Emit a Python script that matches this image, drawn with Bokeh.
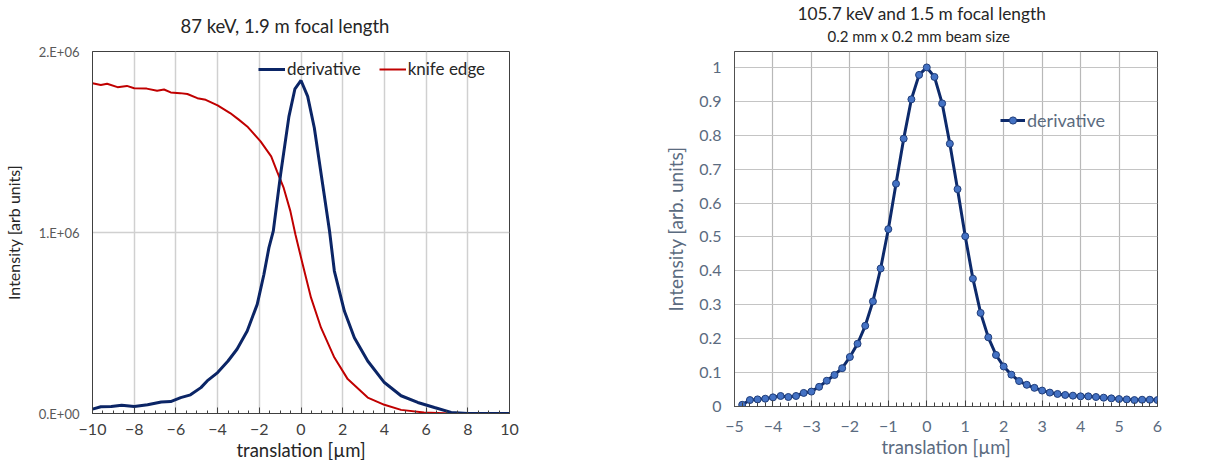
from bokeh.plotting import figure
from bokeh.layouts import row
from bokeh.models import FixedTicker, Legend, LegendItem, Range1d, Title
from bokeh.embed import file_html
from bokeh.resources import INLINE

# ---------------- data: left chart (87 keV, 1.9 m) ----------------
knife_x = [-10, -9.6, -9.3, -8.8, -8.35, -8.0, -7.4, -6.9, -6.57, -6.25, -5.8, -5.45,
           -4.97, -4.57, -4.0, -3.4, -3.0, -2.58, -1.94, -1.43, -1.15, -0.83, -0.51,
           -0.27, 0.08, 0.48, 0.96, 1.6, 2.24, 3.2, 4.0, 4.8, 5.9, 7.2, 8.0, 9.0, 10.0]
knife_y = [1.825e6, 1.815e6, 1.822e6, 1.803e6, 1.81e6, 1.797e6, 1.795e6, 1.783e6, 1.79e6,
           1.774e6, 1.77e6, 1.765e6, 1.742e6, 1.733e6, 1.702e6, 1.66e6, 1.625e6, 1.586e6,
           1.503e6, 1.421e6, 1.338e6, 1.246e6, 1.118e6, 0.99e6, 0.824e6, 0.64e6, 0.474e6,
           0.309e6, 0.19e6, 0.088e6, 0.048e6, 0.02e6, 0.006e6, 0.0, 0.0, 0.0, 0.0]

deriv1_x = [-10, -9.6, -9.1, -8.6, -8.0, -7.36, -6.7, -6.25, -5.77, -5.3, -4.8, -4.5, -4.0,
            -3.5, -3.07, -2.58, -2.1, -1.78, -1.54, -1.33, -0.98, -0.58, -0.29, 0.0, 0.32,
            0.64, 1.04, 1.37, 1.6, 2.08, 2.56, 3.2, 4.0, 4.8, 5.6, 6.4, 7.2, 8.0, 10.0]
deriv1_y = [0.024e6, 0.037e6, 0.039e6, 0.046e6, 0.039e6, 0.048e6, 0.064e6, 0.066e6, 0.088e6,
            0.103e6, 0.143e6, 0.18e6, 0.226e6, 0.29e6, 0.355e6, 0.456e6, 0.603e6, 0.768e6,
            0.915e6, 1.007e6, 1.32e6, 1.64e6, 1.794e6, 1.84e6, 1.752e6, 1.577e6, 1.265e6,
            1.007e6, 0.787e6, 0.566e6, 0.419e6, 0.29e6, 0.171e6, 0.098e6, 0.061e6, 0.033e6,
            0.006e6, 0.0, 0.0]

left_xticks = [-10, -8, -6, -4, -2, 0, 2, 4, 6, 8, 10]
left_xminor = [v * 0.5 for v in range(-20, 21)]
left_yticks = [0, 1e6, 2e6]
left_ylabels = {0: "0.E+00", 1000000: "1.E+06", 2000000: "2.E+06"}

# ---------------- data: right chart (105.7 keV, 1.5 m) ----------------
deriv2_x = [-4.8, -4.6, -4.4, -4.2, -4.0, -3.8, -3.6, -3.4, -3.2, -3.0, -2.8, -2.6, -2.4,
            -2.2, -2.0, -1.8, -1.6, -1.4, -1.2, -1.0, -0.8, -0.6, -0.4, -0.2, 0.0, 0.2,
            0.4, 0.6, 0.8, 1.0, 1.2, 1.4, 1.6, 1.8, 2.0, 2.2, 2.4, 2.6, 2.8, 3.0, 3.2,
            3.4, 3.6, 3.8, 4.0, 4.2, 4.4, 4.6, 4.8, 5.0, 5.2, 5.4, 5.6, 5.8, 6.0]
deriv2_y = [0.005, 0.019, 0.021, 0.023, 0.027, 0.031, 0.028, 0.031, 0.040, 0.044, 0.058,
            0.076, 0.093, 0.113, 0.146, 0.185, 0.238, 0.310, 0.407, 0.523, 0.657, 0.790,
            0.906, 0.978, 1.000, 0.972, 0.894, 0.775, 0.641, 0.502, 0.377, 0.276, 0.204,
            0.152, 0.118, 0.094, 0.075, 0.064, 0.055, 0.047, 0.041, 0.037, 0.034, 0.032,
            0.030, 0.030, 0.028, 0.026, 0.024, 0.022, 0.021, 0.019, 0.020, 0.020, 0.019]

right_xticks = [-5, -4, -3, -2, -1, 0, 1, 2, 3, 4, 5, 6]
right_xminor = [round(-5 + 0.2 * i, 1) for i in range(56)]
right_yticks = [0, 0.1, 0.2, 0.3, 0.4, 0.5, 0.6, 0.7, 0.8, 0.9, 1]
right_ylabels = {0: "0", 0.1: "0.1", 0.2: "0.2", 0.3: "0.3", 0.4: "0.4", 0.5: "0.5",
                 0.6: "0.6", 0.7: "0.7", 0.8: "0.8", 0.9: "0.9", 1: "1"}

FONT = "Lato"
DARK = "#404040"
TXT = "#262626"
SLATE = "#5b6b80"


def spacer(gap):
    # an empty title used only as vertical padding between a title and the frame
    return Title(text=" ", text_font_size="1px", standoff=gap)


# ---------------- left figure ----------------
p1 = figure(frame_width=417, frame_height=362, x_range=Range1d(-10, 10), y_range=Range1d(0, 2e6),
            output_backend="svg", toolbar_location=None,
            min_border_left=84, min_border_right=21, min_border_top=42, min_border_bottom=53)
p1.add_layout(spacer(6), "above")
p1.title.text = "87 keV, 1.9 m focal length"
p1.title.align = "left"
p1.title.offset = 88
p1.title.text_font = FONT
p1.title.text_font_size = "18.5px"
p1.title.text_font_style = "normal"
p1.title.text_color = TXT
p1.title.standoff = 12

p1.outline_line_color = DARK
p1.outline_line_width = 1

p1.xaxis.ticker = FixedTicker(ticks=left_xticks, minor_ticks=left_xminor)
p1.xaxis.axis_label = "translation [µm]"
p1.yaxis.ticker = FixedTicker(ticks=left_yticks)
p1.yaxis.major_label_overrides = left_ylabels
p1.yaxis.axis_label = "Intensity [arb units]"
for ax in (p1.xaxis[0], p1.yaxis[0]):
    ax.axis_line_color = DARK
    ax.major_tick_line_color = DARK
    ax.minor_tick_line_color = DARK
    ax.major_label_text_font = FONT
    ax.major_label_text_color = DARK
    ax.axis_label_text_font = FONT
    ax.axis_label_text_font_style = "normal"
    ax.axis_label_text_color = TXT
p1.xaxis.major_tick_in = 6
p1.xaxis.major_tick_out = 0
p1.xaxis.minor_tick_in = 3
p1.xaxis.minor_tick_out = 0
p1.xaxis.major_label_text_font_size = "16px"
p1.xaxis.major_label_standoff = 10
p1.xaxis.axis_label_text_font_size = "18.5px"
p1.xaxis.axis_label_standoff = 1
p1.yaxis.major_tick_in = 0
p1.yaxis.major_tick_out = 0
p1.yaxis.minor_tick_in = 0
p1.yaxis.minor_tick_out = 0
p1.yaxis.major_label_text_font_size = "13px"
p1.yaxis.major_label_text_color = "#595959"
p1.yaxis.major_label_standoff = 13
p1.yaxis.axis_label_text_font_size = "16px"
p1.yaxis.axis_label_standoff = 13

p1.xgrid.ticker = FixedTicker(ticks=left_xticks)
p1.ygrid.ticker = FixedTicker(ticks=left_yticks)
p1.xgrid.grid_line_color = "#d0d0d0"
p1.ygrid.grid_line_color = "#d0d0d0"
p1.xgrid.grid_line_width = 1.5
p1.ygrid.grid_line_width = 1.5

r_knife = p1.line(knife_x, knife_y, line_color="#c00000", line_width=2)
r_der1 = p1.line(deriv1_x, deriv1_y, line_color="#0b2566", line_width=3)

leg1 = Legend(items=[LegendItem(label="derivative", renderers=[r_der1]),
                     LegendItem(label="knife edge", renderers=[r_knife])],
              orientation="horizontal", location=(166, 334),
              background_fill_alpha=0, border_line_alpha=0,
              padding=0, margin=0, spacing=18, glyph_width=27, glyph_height=16,
              label_standoff=2, label_text_font=FONT, label_text_font_size="17px",
              label_text_color=TXT, label_height=16)
p1.add_layout(leg1)

# ---------------- right figure ----------------
p2 = figure(frame_width=423, frame_height=355, x_range=Range1d(-5, 6), y_range=Range1d(0, 1.047),
            output_backend="svg", toolbar_location=None,
            min_border_left=204, min_border_right=25, min_border_top=45, min_border_bottom=57)
p2.add_layout(spacer(3), "above")
p2.add_layout(Title(text="0.2 mm x 0.2 mm beam size", align="left", offset=93,
                    text_font=FONT, text_font_size="15px", text_font_style="normal",
                    text_color=TXT, standoff=2), "above")
p2.title.text = "105.7 keV and 1.5 m focal length"
p2.title.align = "left"
p2.title.offset = 63
p2.title.text_font = FONT
p2.title.text_font_size = "17.3px"
p2.title.text_font_style = "normal"
p2.title.text_color = TXT
p2.title.standoff = 0

p2.outline_line_color = "#505050"
p2.outline_line_width = 1

p2.xaxis.ticker = FixedTicker(ticks=right_xticks, minor_ticks=right_xminor)
p2.xaxis.axis_label = "translation [µm]"
p2.yaxis.ticker = FixedTicker(ticks=right_yticks)
p2.yaxis.major_label_overrides = right_ylabels
p2.yaxis.axis_label = "Intensity [arb. units]"
for ax in (p2.xaxis[0], p2.yaxis[0]):
    ax.axis_line_color = "#505050"
    ax.major_tick_line_color = "#404040"
    ax.minor_tick_line_color = "#404040"
    ax.major_label_text_font = FONT
    ax.major_label_text_color = SLATE
    ax.major_label_text_font_size = "16px"
    ax.axis_label_text_font = FONT
    ax.axis_label_text_font_style = "normal"
    ax.axis_label_text_color = SLATE
p2.xaxis.axis_label_text_font_size = "18.5px"
p2.yaxis.axis_label_text_font_size = "19px"
p2.xaxis.major_tick_in = 6
p2.xaxis.major_tick_out = 0
p2.xaxis.minor_tick_in = 4
p2.xaxis.minor_tick_out = 0
p2.xaxis.major_label_standoff = 14
p2.xaxis.axis_label_standoff = 1
p2.yaxis.major_tick_in = 0
p2.yaxis.major_tick_out = 0
p2.yaxis.minor_tick_in = 0
p2.yaxis.minor_tick_out = 0
p2.yaxis.major_label_standoff = 13
p2.yaxis.axis_label_standoff = 9

p2.xgrid.ticker = FixedTicker(ticks=right_xticks)
p2.ygrid.ticker = FixedTicker(ticks=right_yticks)
p2.xgrid.grid_line_color = "#b8b8b8"
p2.ygrid.grid_line_color = "#c4c4c4"
p2.xgrid.grid_line_width = 1.2
p2.ygrid.grid_line_width = 1.2

r_l2 = p2.line(deriv2_x, deriv2_y, line_color="#0d2a6b", line_width=3)
r_m2 = p2.scatter(deriv2_x, deriv2_y, size=7, fill_color="#4472c4", line_color="#1f3d7a",
                  line_width=1)

leg2 = Legend(items=[LegendItem(label="derivative", renderers=[r_l2, r_m2])],
              orientation="horizontal", location=(266, 275),
              background_fill_alpha=0, border_line_alpha=0,
              padding=0, margin=0, glyph_width=25, glyph_height=18,
              label_standoff=2, label_text_font=FONT, label_text_font_size="18px",
              label_text_color=SLATE, label_height=18)
p2.add_layout(leg2)

layout = row(p1, p2)
open("out.html", "w").write(file_html(layout, INLINE))
